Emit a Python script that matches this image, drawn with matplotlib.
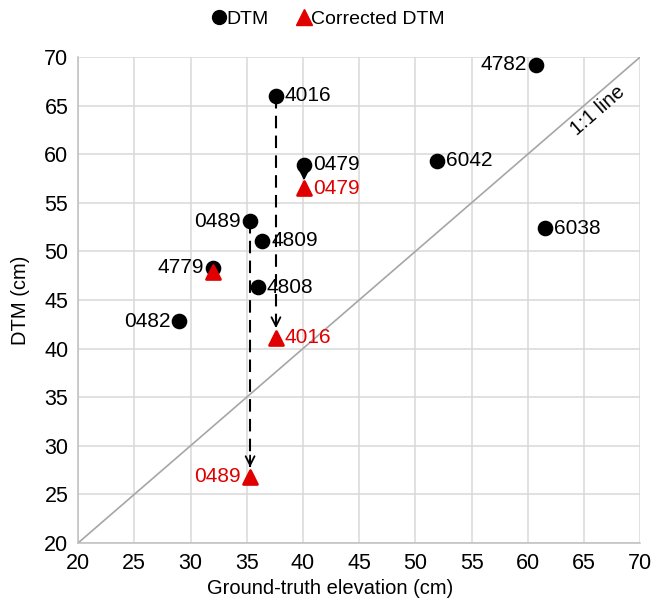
import numpy as np
import matplotlib.pyplot as plt
from matplotlib.lines import Line2D

plt.rcParams['font.family'] = ['Liberation Sans', 'DejaVu Sans']

# Original DTM values vs ground truth (cm)
ids = ['4016', '0479', '0489', '4809', '4779', '0482', '4808', '4782', '6042', '6038']
truth = [37.6, 40.1, 35.3, 36.4, 32.0, 29.0, 36.0, 60.7, 51.9, 61.5]
dtm = [66.0, 58.9, 53.1, 51.1, 48.3, 42.8, 46.3, 69.2, 59.3, 52.4]
label_side = ['r', 'r', 'l', 'r', 'l', 'l', 'r', 'l', 'r', 'r']

# Corrected DTM values for the points that were adjusted
corr_ids = ['4016', '0479', '0489', '4779']
corr_truth = [37.6, 40.1, 35.3, 32.0]
corr_dtm = [41.1, 56.5, 26.8, 47.9]
corr_side = ['r', 'r', 'l', None]

RED = '#e00000'
LBL = 15

fig = plt.figure(figsize=(6.56, 6.06), dpi=100)
ax = fig.add_axes([0.119, 0.104, 0.857, 0.802])

ax.set_xlim(20, 70)
ax.set_ylim(20, 70)
ticks = np.arange(20, 71, 5)
ax.set_xticks(ticks)
ax.set_yticks(ticks)
ax.grid(True, color='#d9d9d9', lw=1.1)
ax.set_axisbelow(True)
for s in ['top', 'right']:
    ax.spines[s].set_visible(False)
for s in ['left', 'bottom']:
    ax.spines[s].set_color('#bfbfbf')
    ax.spines[s].set_linewidth(1.1)
ax.tick_params(length=0, labelsize=15.5, pad=7)
ax.set_xlabel('Ground-truth elevation (cm)', fontsize=14.5, labelpad=4)
ax.xaxis.set_label_coords(0.448, -0.075)
ax.set_ylabel('DTM (cm)', fontsize=14.5, labelpad=10)

# 1:1 reference line
ax.plot([20, 70], [20, 70], color='#a6a6a6', lw=1.2, zorder=1)
ax.text(66.2, 64.5, '1:1 line', rotation=41, fontsize=14.5,
        ha='center', va='center', rotation_mode='anchor')

# dashed correction arrows
for i in range(len(corr_ids)):
    j = ids.index(corr_ids[i])
    y0 = dtm[j]
    y1 = corr_dtm[i]
    if abs(y0 - y1) < 1:
        continue
    ax.plot([truth[j], truth[j]], [y0, y1 + 1.0], color='black', lw=1.5,
            linestyle=(0, (6, 3.5)), zorder=2)
    ax.annotate('', xy=(truth[j], y1 + 1.0), xytext=(truth[j], y1 + 2.2),
                arrowprops=dict(arrowstyle='->', lw=1.3, color='black',
                                mutation_scale=16, shrinkA=0, shrinkB=0))
# short arrow for 0479
ax.annotate('', xy=(40.1, 57.3), xytext=(40.1, 58.7),
            arrowprops=dict(arrowstyle='->', lw=1.3, color='black',
                            mutation_scale=14, shrinkA=0, shrinkB=0))

ax.scatter(truth, dtm, s=105, color='black', zorder=4)
ax.scatter(corr_truth, corr_dtm, s=100, marker='^', color=RED,
           edgecolor=RED, linewidth=2, joinstyle='round', zorder=5)

for name, x, y, side in zip(ids, truth, dtm, label_side):
    if side == 'r':
        ax.text(x + 0.8, y, name, fontsize=LBL, ha='left', va='center')
    else:
        ax.text(x - 0.8, y, name, fontsize=LBL, ha='right', va='center')

for name, x, y, side in zip(corr_ids, corr_truth, corr_dtm, corr_side):
    if side is None:
        continue
    if side == 'r':
        ax.text(x + 0.8, y, name, fontsize=LBL, ha='left', va='center', color=RED)
    else:
        ax.text(x - 0.8, y, name, fontsize=LBL, ha='right', va='center', color=RED)

handles = [
    Line2D([], [], marker='o', color='black', ls='none', markersize=10),
    Line2D([], [], marker='^', color=RED, ls='none', markersize=12),
]
fig.legend(handles, ['DTM', 'Corrected DTM'], loc='upper center',
           bbox_to_anchor=(0.497, 1.012), ncol=2, frameon=False, fontsize=14,
           handletextpad=-0.2, columnspacing=1.2, handlelength=1.2)

fig.savefig('out.png', dpi=100)
